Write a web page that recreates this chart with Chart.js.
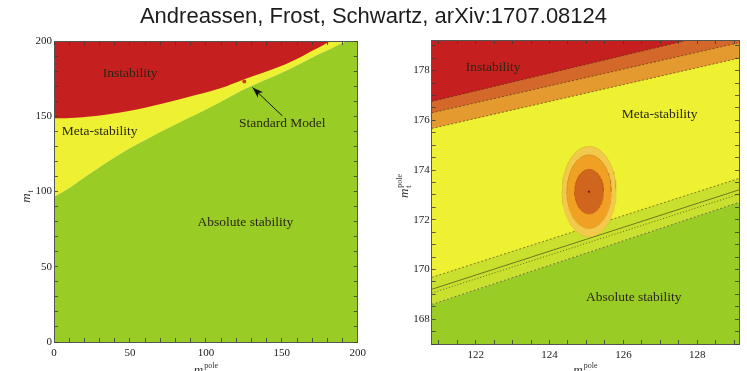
<!DOCTYPE html>
<html lang="en">
<head>
<meta charset="UTF-8" />
<title>Vacuum stability of the Standard Model</title>
<script src="https://cdn.jsdelivr.net/npm/chart.js"></script>
<style>
  html, body { margin: 0; padding: 0; background: #fff; }
  body { width: 747px; height: 371px; position: relative; overflow: hidden; }
  .title {
    position: absolute; left: 0; top: 3px; width: 747px; text-align: center;
    font: 22px "Liberation Sans", Arial, sans-serif; color: #1c1c1c; z-index: 2;
  }
  .panel { position: absolute; top: 0; }
  #left { left: 0; }
  #right { left: 375px; }
</style>
</head>
<body>
<div class="title">Andreassen, Frost, Schwartz, arXiv:1707.08124</div>
<div class="panel" id="left"><canvas id="leftChart" width="375" height="371"></canvas></div>
<div class="panel" id="right"><canvas id="rightChart" width="372" height="371"></canvas></div>

<script>
  // ---- full plane: m_h (x) vs m_t (y), both 0..200 GeV
  const fullMh = [0, 10.9, 21.8, 43.6, 65.4, 87.1, 109, 125.3, 152.5, 174.3, 183, 191.7, 200];
  const fullInstabilityMt = [148.6, 148.8, 149.6, 152.5, 157, 162.5, 168.4, 174.6, 184.5, 195.6, 200, 200, 200];
  const fullAbsoluteMt = [96.4, 102.9, 110.6, 125, 137.1, 148.1, 159.2, 168, 180.1, 191.2, 195.2, 199.4, 200];
  const smPoint = [125.3, 173.1];
  const arrowMh = [150.3, 130.7];
  const arrowMt = [150.3, 169.1];
  const fullLabels = ["Instability", "Meta-stability", "Standard Model", "Absolute stability"];
  const fullLabelMh = [50.2, 30.1, 150.3, 126];
  const fullLabelMt = [178.6, 140, 145.3, 79.5];

  // ---- zoom around the measured masses
  const zoomMh = [120.81, 129.13];
  const edgeRed = [176.76, 179.72];
  const edgeDarkOrange = [176.3, 179.12];
  const edgeOrange = [175.67, 178.5];
  const edgeMeta = [169.68, 173.66];
  const edgeSolid = [169.2, 173.2];
  const edgeDotted = [169.05, 173.03];
  const edgeAbsolute = [168.59, 172.7];
  const poleCenter = [125.07, 173.13];
  const sigmaMh = [0.39, 0.6, 0.73];
  const sigmaMt = [0.9, 1.48, 1.82];
  const zoomLabels = ["Instability", "Meta-stability", "Absolute stability"];
  const zoomLabelMh = [122.47, 126.98, 126.28];
  const zoomLabelMt = [178.14, 176.23, 168.87];

  const C = {
    red: "#c61f1f",
    darkOrange: "#d4672a",
    orange: "#e49a2e",
    yellow: "#eef132",
    lime: "#c9e02e",
    green: "#99cc25",
    ring1: "#d0661e",
    ring2: "#f0a022",
    ring3: "#f2c94a",
    ink: "#2a2616",
  };

  const serif = '"Liberation Serif", "DejaVu Serif", serif';

  function pts(xs, ys) {
    return xs.map((x, i) => ({ x: x, y: ys[i] }));
  }

  // one half of an error ellipse, left to right (sign 1 = upper, -1 = lower)
  function halfEllipse(k, sign) {
    const out = [];
    for (let i = 0; i <= 48; i++) {
      const t = Math.PI - (i / 48) * Math.PI;
      out.push({
        x: poleCenter[0] + sigmaMh[k] * Math.cos(t),
        y: poleCenter[1] + sign * sigmaMt[k] * Math.sin(t),
      });
    }
    return out;
  }

  // inward tick marks on every side, labels only on the major values
  function axis(position, min, max, step, major, size, labels) {
    const horizontal = position === "top" || position === "bottom";
    return {
      type: "linear",
      position: position,
      min: min,
      max: max,
      afterFit(scale) {
        if (horizontal) scale.height = size;
        else scale.width = size;
      },
      grid: {
        z: 1,
        drawOnChartArea: false,
        drawTicks: true,
        tickLength: -4,
        tickColor: "#3a3a3a",
        tickWidth: 0.8,
      },
      border: { display: true, color: "#555", width: 1, z: 1 },
      ticks: {
        display: labels,
        stepSize: step,
        includeBounds: false,
        autoSkip: false,
        maxRotation: 0,
        padding: horizontal ? 9 : 6,
        color: "#222",
        font: { family: serif, size: 11 },
        callback: (v) => (Math.abs(v / major - Math.round(v / major)) < 1e-6 ? String(v) : ""),
      },
    };
  }

  function textLayer(texts, xs, ys) {
    return {
      id: "textLayer",
      afterDatasetsDraw(chart) {
        const { ctx, scales } = chart;
        ctx.save();
        ctx.font = "13.5px " + serif;
        ctx.fillStyle = C.ink;
        ctx.textAlign = "center";
        ctx.textBaseline = "middle";
        texts.forEach((t, i) => {
          ctx.fillText(t, scales.x.getPixelForValue(xs[i]), scales.y.getPixelForValue(ys[i]));
        });
        ctx.restore();
      },
    };
  }

  function mathLabel(ctx, cx, cy, sub, sup, angle) {
    ctx.save();
    ctx.translate(cx, cy);
    ctx.rotate(angle);
    ctx.fillStyle = "#333";
    ctx.textBaseline = "alphabetic";
    const big = "italic 13px " + serif;
    const small = "8px " + serif;
    ctx.font = big;
    const wm = ctx.measureText("m").width;
    ctx.font = small;
    const ws = Math.max(ctx.measureText(sub).width, sup ? ctx.measureText(sup).width : 0);
    const x0 = -(wm + ws + 1) / 2;
    ctx.font = big;
    ctx.fillText("m", x0, 4);
    ctx.font = small;
    ctx.fillText(sub, x0 + wm + 1, 7);
    if (sup) ctx.fillText(sup, x0 + wm + 1, -2);
    ctx.restore();
  }

  function axisTitles(ySup, yOffset, yShift, xOffset) {
    return {
      id: "axisTitles",
      afterDraw(chart) {
        const a = chart.chartArea;
        const ctx = chart.ctx;
        mathLabel(ctx, a.left - yOffset, (a.top + a.bottom) / 2 + yShift, "t", ySup, -Math.PI / 2);
        mathLabel(ctx, (a.left + a.right) / 2, a.bottom + xOffset, "h", "pole", 0);
      },
    };
  }

  const arrowHead = {
    id: "arrowHead",
    afterDatasetsDraw(chart) {
      const meta = chart.getDatasetMeta(1);
      if (!meta.data.length) return;
      const p0 = meta.data[0], p1 = meta.data[1];
      const ang = Math.atan2(p1.y - p0.y, p1.x - p0.x);
      const ctx = chart.ctx;
      ctx.save();
      ctx.translate(p1.x, p1.y);
      ctx.rotate(ang);
      ctx.fillStyle = "#111";
      ctx.beginPath();
      ctx.moveTo(0, 0);
      ctx.lineTo(-11, -3.8);
      ctx.lineTo(-8, 0);
      ctx.lineTo(-11, 3.8);
      ctx.closePath();
      ctx.fill();
      ctx.restore();
    },
  };

  const region = (data, color, fill) => ({
    data: data,
    fill: fill,
    backgroundColor: color,
    borderWidth: 0,
    pointRadius: 0,
  });

  const contour = (data, dash, width) => ({
    data: data,
    fill: false,
    borderColor: "rgba(60,45,20,0.75)",
    borderWidth: width,
    borderDash: dash,
    pointRadius: 0,
  });

  // upper half filled down to the matching lower half
  const ring = (k, color, edge) => [
    { data: halfEllipse(k, 1), fill: "+1", backgroundColor: color, borderColor: edge, borderWidth: 0.7, pointRadius: 0 },
    { data: halfEllipse(k, -1), fill: false, borderColor: edge, borderWidth: 0.7, pointRadius: 0 },
  ];

  new Chart(document.getElementById("leftChart"), {
    type: "line",
    data: {
      datasets: [
        {
          data: [{ x: smPoint[0], y: smPoint[1] }],
          showLine: false,
          pointRadius: 2,
          pointBackgroundColor: "#c8400e",
          pointBorderWidth: 0,
        },
        {
          data: pts(arrowMh, arrowMt),
          borderColor: "#111",
          borderWidth: 1,
          pointRadius: 0,
          fill: false,
        },
        region(pts(fullMh, fullInstabilityMt), C.red, "end"),
        region(pts(fullMh, fullAbsoluteMt), C.green, "start"),
        region(pts(fullMh, fullAbsoluteMt), C.yellow, "end"),
      ],
    },
    options: {
      responsive: false,
      animation: false,
      events: [],
      layout: { padding: { left: 0, right: 15, top: 41, bottom: 0 } },
      plugins: { legend: { display: false }, tooltip: { enabled: false } },
      elements: { line: { tension: 0.35 } },
      scales: {
        x: axis("bottom", 0, 200, 10, 50, 29, true),
        y: axis("left", 0, 200, 10, 50, 54, true),
        x2: axis("top", 0, 200, 10, 50, 0, false),
        y2: axis("right", 0, 200, 10, 50, 0, false),
      },
    },
    plugins: [textLayer(fullLabels, fullLabelMh, fullLabelMt), arrowHead, axisTitles(null, 28, 5, 28)],
  });

  new Chart(document.getElementById("rightChart"), {
    type: "line",
    data: {
      datasets: [
        {
          data: [{ x: poleCenter[0], y: poleCenter[1] }],
          showLine: false,
          pointRadius: 1.2,
          pointBackgroundColor: "#7a1f0c",
          pointBorderWidth: 0,
        },
        ...ring(0, C.ring1, "rgba(150,60,20,0.45)"),
        ...ring(1, C.ring2, "rgba(170,100,20,0.45)"),
        ...ring(2, C.ring3, "rgba(190,140,40,0.45)"),
        contour(pts(zoomMh, edgeRed), [2, 2], 0.8),
        contour(pts(zoomMh, edgeDarkOrange), [2, 2], 0.8),
        contour(pts(zoomMh, edgeOrange), [2, 2], 0.8),
        contour(pts(zoomMh, edgeMeta), [2, 2], 0.8),
        contour(pts(zoomMh, edgeSolid), [], 0.8),
        contour(pts(zoomMh, edgeDotted), [1, 2], 0.9),
        contour(pts(zoomMh, edgeAbsolute), [2, 2], 0.8),
        region(pts(zoomMh, edgeRed), C.red, "end"),
        region(pts(zoomMh, edgeDarkOrange), C.darkOrange, "end"),
        region(pts(zoomMh, edgeOrange), C.orange, "end"),
        region(pts(zoomMh, edgeMeta), C.yellow, "end"),
        region(pts(zoomMh, edgeAbsolute), C.lime, "end"),
        region(pts(zoomMh, edgeAbsolute), C.green, "start"),
      ],
    },
    options: {
      responsive: false,
      animation: false,
      events: [],
      layout: { padding: { left: 0, right: 8, top: 40, bottom: 0 } },
      plugins: { legend: { display: false }, tooltip: { enabled: false } },
      scales: {
        x: axis("bottom", 120.81, 129.13, 0.5, 2, 27, true),
        y: axis("left", 167, 179.23, 0.5, 2, 56.7, true),
        x2: axis("top", 120.81, 129.13, 0.5, 2, 0, false),
        y2: axis("right", 167, 179.23, 0.5, 2, 0, false),
      },
    },
    plugins: [textLayer(zoomLabels, zoomLabelMh, zoomLabelMt), axisTitles("pole", 28, -6, 26)],
  });
</script>
</body>
</html>
